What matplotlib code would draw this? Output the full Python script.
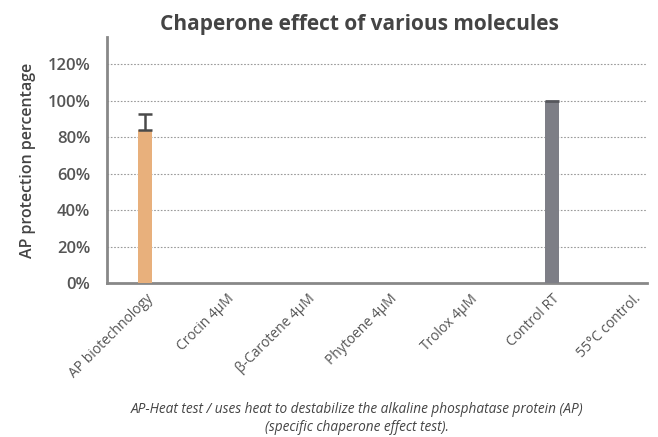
import matplotlib
matplotlib.use("Agg")
import matplotlib.pyplot as plt
from matplotlib.ticker import FuncFormatter

categories = ["AP biotechnology", "Crocin 4µM", "β-Carotene 4µM", "Phytoene 4µM",
              "Trolox 4µM", "Control RT", "55°C control."]
values = [84, 0, 0, 0, 0, 100, 0]
err_up = [9, 0, 0, 0, 0, 0, 0]
colors = ["#e8b07c", "#e8b07c", "#e8b07c", "#e8b07c", "#e8b07c", "#7d7e86", "#7d7e86"]
yticks = [0, 20, 40, 60, 80, 100, 120]

plt.rcParams['font.family'] = ['Open Sans', 'DejaVu Sans']

fig = plt.figure(figsize=(6.58, 4.37), dpi=100)
ax = fig.add_axes([0.1626, 0.352, 0.8204, 0.563])

x = list(range(len(categories)))
ax.bar(x, values, width=0.17, color=colors, zorder=3)
for xi, v, e in zip(x, values, err_up):
    if e > 0:
        ax.errorbar(xi, v, yerr=[[0], [e]], fmt='none', ecolor="#4a4a4a",
                    elinewidth=1.8, capsize=5, capthick=1.8, zorder=4)
ax.hlines(100, 5 - 0.085, 5 + 0.085, color="#55565c", lw=2, zorder=4)

ax.set_xlim(-0.47, 6.17)
ax.set_ylim(0, 135)
ax.set_yticks(yticks)
ax.yaxis.set_major_formatter(FuncFormatter(lambda v, p: f"{int(v)}%"))
for t in yticks[1:]:
    ax.axhline(t, color="#9a9a9a", lw=0.8, ls=(0, (1.5, 1.5)), zorder=1)

ax.set_xticks(x)
ax.set_xticklabels(categories, rotation=45, ha='right', rotation_mode='anchor',
                   fontsize=10, color="#555555")
ax.tick_params(axis='both', length=0)
ax.tick_params(axis='x', pad=6)
ax.tick_params(axis='y', pad=12, labelsize=12, labelcolor="#555555")
for lbl in ax.get_yticklabels():
    lbl.set_fontweight('semibold')

for s in ['top', 'right']:
    ax.spines[s].set_visible(False)
for s in ['left', 'bottom']:
    ax.spines[s].set_color("#888888")
    ax.spines[s].set_linewidth(2)

ax.set_ylabel("AP protection percentage", fontsize=11.5, color="#444444",
              fontweight='semibold', labelpad=8)
fig.text(0.547, 0.945, "Chaperone effect of various molecules", ha='center',
         va='center', fontsize=15, fontweight='bold', color="#444444")
fig.text(0.543, 0.062, "AP-Heat test / uses heat to destabilize the alkaline phosphatase protein (AP)",
         ha='center', va='center', fontsize=9.8, style='italic', color="#444444")
fig.text(0.543, 0.022, "(specific chaperone effect test).",
         ha='center', va='center', fontsize=9.8, style='italic', color="#444444")

fig.savefig("out.png", dpi=100, facecolor="white")
